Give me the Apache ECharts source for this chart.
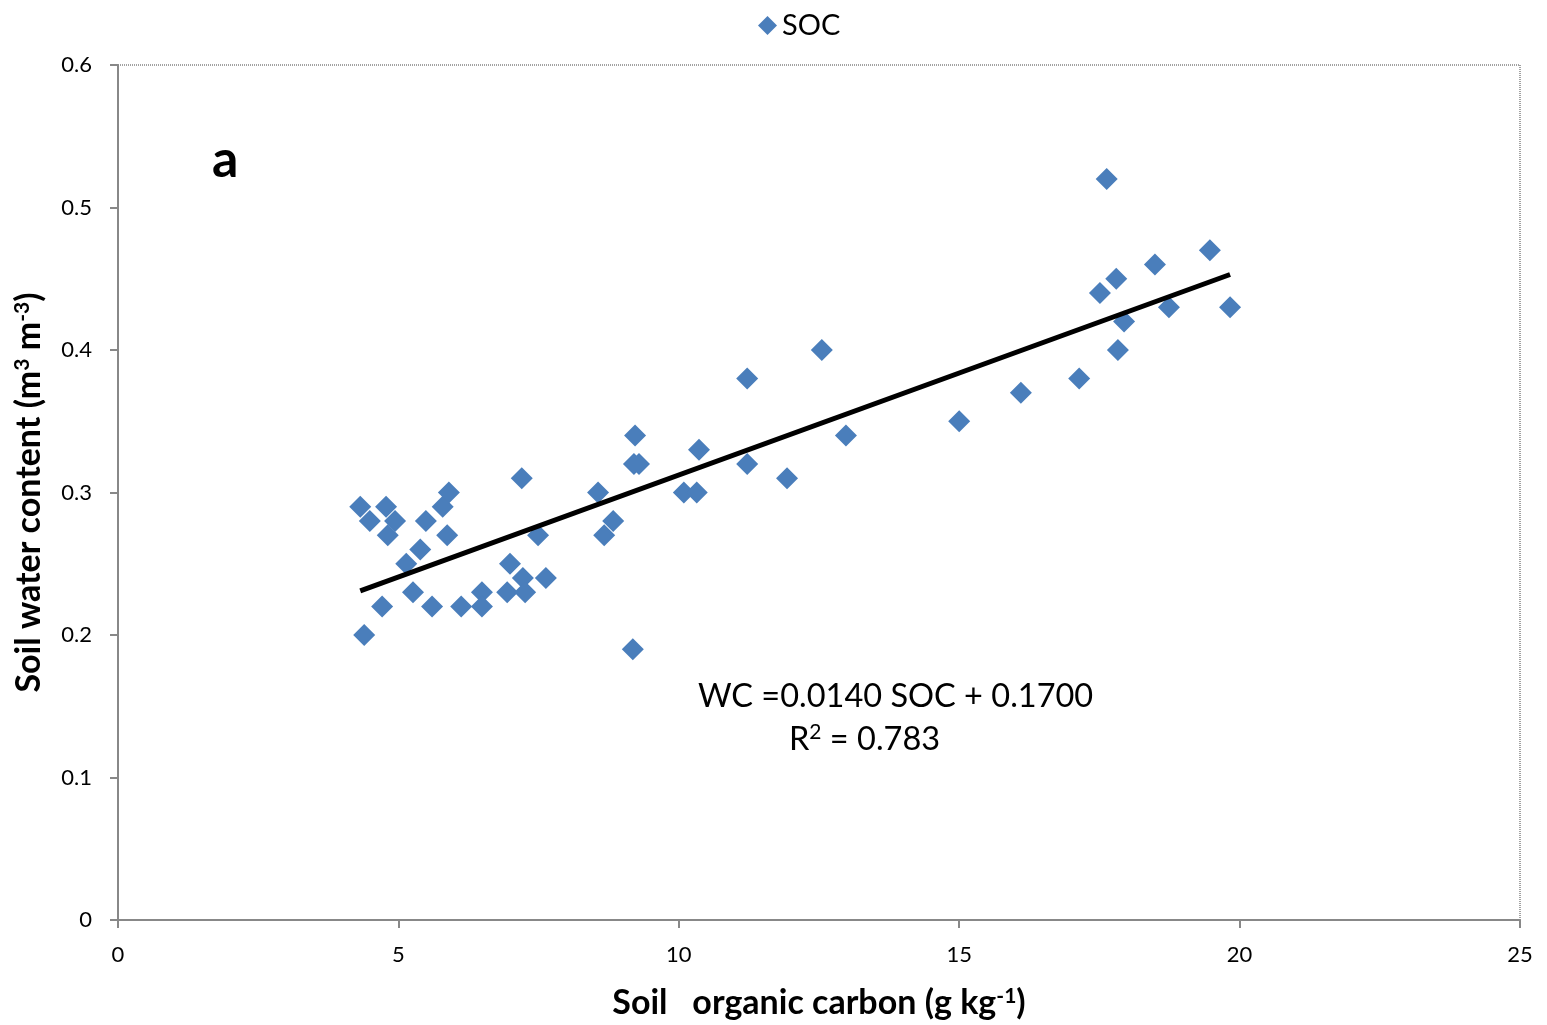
<!DOCTYPE html>
<html>
<head>
<meta charset="utf-8">
<script src="https://cdn.jsdelivr.net/npm/echarts@6/dist/echarts.min.js"></script>
<style>
  html, body { margin: 0; padding: 0; background: #fff; }
  #chart { width: 1547px; height: 1025px; }
</style>
</head>
<body>
<div id="chart"></div>
<script>
// Soil organic carbon (g/kg) vs soil water content (m3/m3)
const socValues = [
  4.32, 4.39, 4.49, 4.71, 4.78, 4.81, 4.94, 5.14, 5.26, 5.39,
  5.49, 5.60, 5.79, 5.87, 5.90, 6.12, 6.49, 6.49, 6.94, 6.99,
  7.20, 7.22, 7.26, 7.49, 7.63, 8.56, 8.67, 8.83, 9.18, 9.20,
  9.22, 9.29, 10.09, 10.32, 10.36, 11.22, 11.22, 11.93, 12.55, 12.98,
  15.00, 16.10, 17.14, 17.51, 17.63, 17.80, 17.83, 17.94, 18.49, 18.74,
  19.47, 19.83
];
const wcValues = [
  0.29, 0.20, 0.28, 0.22, 0.29, 0.27, 0.28, 0.25, 0.23, 0.26,
  0.28, 0.22, 0.29, 0.27, 0.30, 0.22, 0.23, 0.22, 0.23, 0.25,
  0.31, 0.24, 0.23, 0.27, 0.24, 0.30, 0.27, 0.28, 0.19, 0.32,
  0.34, 0.32, 0.30, 0.30, 0.33, 0.38, 0.32, 0.31, 0.40, 0.34,
  0.35, 0.37, 0.38, 0.44, 0.52, 0.45, 0.40, 0.42, 0.46, 0.43,
  0.47, 0.43
];
// fitted line end points
const trendX = [4.32, 19.83];
const trendY = [0.231, 0.453];

const xTicks = [0, 5, 10, 15, 20, 25];

const points = socValues.map((x, i) => [x, wcValues[i]]);
const trend = trendX.map((x, i) => [x, trendY[i]]);

const font = 'Lato, "Open Sans", sans-serif';
const supStyle = { fontSize: 21, fontWeight: 'bold', fontFamily: font, color: '#000', verticalAlign: 'top', lineHeight: 34 };

let myChart = echarts.init(document.getElementById('chart'));

let option = {
    backgroundColor: '#fff',
    animation: false,
    textStyle: { fontFamily: font },
    legend: {
        data: [{ name: 'SOC', icon: 'diamond' }],
        top: 6,
        left: 753,
        itemWidth: 19,
        itemHeight: 19,
        itemGap: 8,
        textStyle: { fontSize: 29, color: '#000', fontFamily: font }
    },
    grid: {
        left: 118,
        right: 27,
        top: 65,
        bottom: 105,
        containLabel: false,
        outerBoundsMode: 'none',
        show: true,
        borderColor: '#444',
        borderWidth: 1,
        borderType: 'dotted'
    },
    xAxis: {
        type: 'value',
        min: 0,
        max: 25,
        interval: 5,
        name: 'Soil   organic carbon (g kg{sup|-1})',
        nameLocation: 'middle',
        nameGap: 66,
        nameTextStyle: {
            fontSize: 34, fontWeight: 'bold', color: '#000', fontFamily: font, lineHeight: 34,
            rich: { sup: supStyle }
        },
        axisLine: { lineStyle: { color: '#888', width: 2 } },
        axisTick: { show: true, inside: false, length: 8, lineStyle: { color: '#888', width: 2 } },
        axisLabel: { fontSize: 22, color: '#000', margin: 24,
            formatter: v => xTicks.includes(v) ? String(v) : '' },
        splitLine: { show: false }
    },
    yAxis: {
        type: 'value',
        min: 0,
        max: 0.6,
        interval: 0.1,
        name: 'Soil water content (m{sup|3} m{sup|-3})',
        nameLocation: 'middle',
        nameGap: 72,
        nameRotate: 90,
        nameTextStyle: {
            fontSize: 34, fontWeight: 'bold', color: '#000', fontFamily: font, lineHeight: 34,
            rich: { sup: supStyle }
        },
        axisLine: { show: true, lineStyle: { color: '#888', width: 2 } },
        axisTick: { show: true, inside: false, length: 8, lineStyle: { color: '#888', width: 2 } },
        axisLabel: { fontSize: 22, color: '#000', margin: 26,
            formatter: v => (Math.round(v * 10) / 10).toString() },
        splitLine: { show: false }
    },
    series: [
        {
            name: 'SOC',
            type: 'scatter',
            symbol: 'diamond',
            symbolSize: 22,
            itemStyle: { color: '#4a7ebb', opacity: 1 },
            data: points,
            z: 3
        },
        {
            name: 'trend',
            type: 'line',
            data: trend,
            symbol: 'none',
            lineStyle: { color: '#000', width: 5 },
            z: 4
        }
    ],
    graphic: [
        {
            type: 'text',
            left: 212,
            top: 134,
            style: { text: 'a', fontSize: 52, fontWeight: 'bold', fill: '#000', fontFamily: font }
        },
        {
            type: 'text',
            left: 698,
            top: 680,
            style: { text: 'WC =0.0140 SOC + 0.1700', fontSize: 32.5, fill: '#000', fontFamily: font }
        },
        {
            type: 'text',
            left: 789,
            top: 722,
            style: {
                text: 'R{sup|2} = 0.783',
                fontSize: 32.5, fill: '#000', fontFamily: font, lineHeight: 36,
                rich: { sup: { fontSize: 21, fill: '#000', fontFamily: font, verticalAlign: 'top', lineHeight: 36 } }
            }
        }
    ]
};

myChart.setOption(option, true);
window.onresize = function() {
    myChart.resize();
};
</script>
</body>
</html>
